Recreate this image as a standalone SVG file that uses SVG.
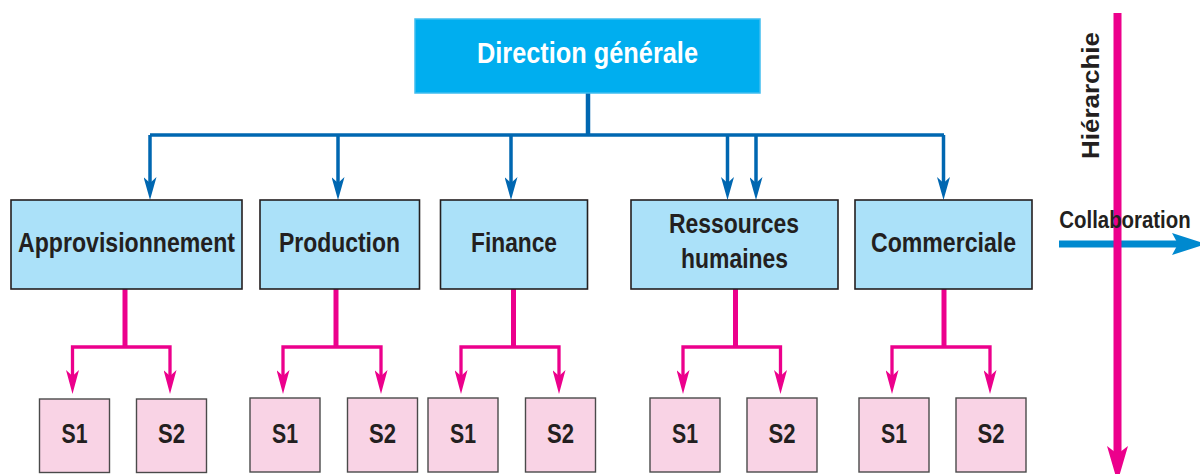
<svg xmlns="http://www.w3.org/2000/svg" width="1200" height="474" viewBox="0 0 1200 474">
<style>
.dg{fill:#00AEEF;stroke:#3FBDF0;stroke-width:1.5}
.l2{fill:#ABE1F9;stroke:#231F20;stroke-width:1.6}
.s{fill:#F9D3E5;stroke:#4A4A4A;stroke-width:1.4}
.t{font-family:"Liberation Sans Narrow","Liberation Sans",Arial,sans-serif;font-weight:bold;text-anchor:middle;fill:#231F20}
.bl{fill:none;stroke:#0067B1;stroke-width:3.5}
.pk{fill:none;stroke:#EC008C;stroke-width:3.3}
</style>
<defs>
<marker id="ab" viewBox="0 0 23 13" markerWidth="23" markerHeight="13" refX="13" refY="6.5" orient="auto" markerUnits="userSpaceOnUse">
<path d="M0,0 L23,6.5 L0,13 L6,6.5 Z" fill="#0067B1"/>
</marker>
<marker id="ap" viewBox="0 0 24 13" markerWidth="24" markerHeight="13" refX="14" refY="6.5" orient="auto" markerUnits="userSpaceOnUse">
<path d="M0,0 L24,6.5 L0,13 L6,6.5 Z" fill="#EC008C"/>
</marker>
</defs>

<g id="connectors">
<line x1="588" y1="93" x2="588" y2="135" stroke="#0067B1" stroke-width="4.5"/>
<polyline class="bl" points="150,135 944,135"/>
<line class="bl" x1="150" y1="135" x2="150" y2="190" marker-end="url(#ab)"/>
<line class="bl" x1="338" y1="135" x2="338" y2="190" marker-end="url(#ab)"/>
<line class="bl" x1="511" y1="135" x2="511" y2="190" marker-end="url(#ab)"/>
<line class="bl" x1="727.5" y1="135" x2="727.5" y2="190" marker-end="url(#ab)"/>
<line class="bl" x1="756" y1="135" x2="756" y2="190" marker-end="url(#ab)"/>
<line class="bl" x1="943.5" y1="135" x2="943.5" y2="190" marker-end="url(#ab)"/>

<g stroke="#EC008C" stroke-width="5">
<line x1="125" y1="289" x2="125" y2="348"/>
<line x1="336" y1="289" x2="336" y2="348"/>
<line x1="513.5" y1="289" x2="513.5" y2="348"/>
<line x1="735.5" y1="289" x2="735.5" y2="348"/>
<line x1="944" y1="289" x2="944" y2="348"/>
</g>
<polyline class="pk" points="72.5,384 72.5,347 170,347 170,384" />
<polyline class="pk" points="283,384 283,347 381,347 381,384" />
<polyline class="pk" points="461,384 461,347 559,347 559,384" />
<polyline class="pk" points="683,384 683,347 780.5,347 780.5,384" />
<polyline class="pk" points="892,384 892,347 990,347 990,384" />
<g class="pk">
<line x1="72.5" y1="378" x2="72.5" y2="384" marker-end="url(#ap)"/>
<line x1="170" y1="378" x2="170" y2="384" marker-end="url(#ap)"/>
<line x1="283" y1="378" x2="283" y2="384" marker-end="url(#ap)"/>
<line x1="381" y1="378" x2="381" y2="384" marker-end="url(#ap)"/>
<line x1="461" y1="378" x2="461" y2="384" marker-end="url(#ap)"/>
<line x1="559" y1="378" x2="559" y2="384" marker-end="url(#ap)"/>
<line x1="683" y1="378" x2="683" y2="384" marker-end="url(#ap)"/>
<line x1="780.5" y1="378" x2="780.5" y2="384" marker-end="url(#ap)"/>
<line x1="892" y1="378" x2="892" y2="384" marker-end="url(#ap)"/>
<line x1="990" y1="378" x2="990" y2="384" marker-end="url(#ap)"/>
</g>
</g>

<g id="direction">
<rect class="dg" x="415" y="19" width="345" height="74"/>
<text class="t" x="587.5" y="63" font-size="29" style="fill:#FFFFFF" textLength="221" lengthAdjust="spacingAndGlyphs">Direction générale</text>
</g>

<g id="approvisionnement">
<rect class="l2" x="11" y="200" width="231" height="89"/>
<text class="t" x="126.5" y="252" font-size="27" textLength="217" lengthAdjust="spacingAndGlyphs">Approvisionnement</text>
</g>
<g id="production">
<rect class="l2" x="260" y="200" width="159.5" height="89"/>
<text class="t" x="339.5" y="252" font-size="27" textLength="121" lengthAdjust="spacingAndGlyphs">Production</text>
</g>
<g id="finance">
<rect class="l2" x="440.5" y="200" width="147" height="89"/>
<text class="t" x="514" y="252" font-size="27" textLength="86" lengthAdjust="spacingAndGlyphs">Finance</text>
</g>
<g id="rh">
<rect class="l2" x="631" y="200" width="207" height="89"/>
<text class="t" x="734" y="233" font-size="27" textLength="130" lengthAdjust="spacingAndGlyphs">Ressources</text>
<text class="t" x="734.5" y="268" font-size="27" textLength="107" lengthAdjust="spacingAndGlyphs">humaines</text>
</g>
<g id="commerciale">
<rect class="l2" x="855" y="200" width="177" height="89"/>
<text class="t" x="943.5" y="252" font-size="27" textLength="145" lengthAdjust="spacingAndGlyphs">Commerciale</text>
</g>

<g id="approv-s1"><rect class="s" x="39.5" y="399" width="70" height="73.5"/><text class="t" x="74.5" y="443" font-size="27" textLength="26" lengthAdjust="spacingAndGlyphs">S1</text></g>
<g id="approv-s2"><rect class="s" x="136.5" y="399" width="70" height="73.5"/><text class="t" x="171.5" y="443" font-size="27" textLength="27" lengthAdjust="spacingAndGlyphs">S2</text></g>
<g id="prod-s1"><rect class="s" x="250" y="398" width="70" height="74"/><text class="t" x="285" y="443" font-size="27" textLength="26" lengthAdjust="spacingAndGlyphs">S1</text></g>
<g id="prod-s2"><rect class="s" x="347.5" y="398" width="70" height="74"/><text class="t" x="382.5" y="443" font-size="27" textLength="27" lengthAdjust="spacingAndGlyphs">S2</text></g>
<g id="fin-s1"><rect class="s" x="428" y="398" width="70" height="74"/><text class="t" x="463" y="443" font-size="27" textLength="26" lengthAdjust="spacingAndGlyphs">S1</text></g>
<g id="fin-s2"><rect class="s" x="525.5" y="398" width="70" height="74"/><text class="t" x="560.5" y="443" font-size="27" textLength="27" lengthAdjust="spacingAndGlyphs">S2</text></g>
<g id="rh-s1"><rect class="s" x="650" y="398" width="70" height="74"/><text class="t" x="685" y="443" font-size="27" textLength="26" lengthAdjust="spacingAndGlyphs">S1</text></g>
<g id="rh-s2"><rect class="s" x="747" y="398" width="70" height="74"/><text class="t" x="782" y="443" font-size="27" textLength="27" lengthAdjust="spacingAndGlyphs">S2</text></g>
<g id="com-s1"><rect class="s" x="859" y="398" width="70" height="74"/><text class="t" x="894" y="443" font-size="27" textLength="26" lengthAdjust="spacingAndGlyphs">S1</text></g>
<g id="com-s2"><rect class="s" x="956" y="398" width="70" height="74"/><text class="t" x="991" y="443" font-size="27" textLength="27" lengthAdjust="spacingAndGlyphs">S2</text></g>

<g id="collaboration">
<line x1="1059" y1="244" x2="1178" y2="244" stroke="#0089CF" stroke-width="7"/>
<path d="M1172,233 L1206,244 L1172,255 L1178,244 Z" fill="#0089CF"/>
</g>
<g id="hierarchie">
<line x1="1117.5" y1="13" x2="1117.5" y2="454" stroke="#EC008C" stroke-width="8"/>
<path d="M1107,446 L1117.5,482 L1128,446 L1117.5,454 Z" fill="#EC008C"/>
<text transform="translate(1099,159) rotate(-90)" x="0" y="0" font-family="'Liberation Sans',Arial,sans-serif" font-weight="bold" font-size="23" fill="#231F20" textLength="127" lengthAdjust="spacingAndGlyphs">Hiérarchie</text>
</g>
<text class="t" transform="translate(1125,228) scale(0.85,1)" x="0" y="0" font-family="'Liberation Sans',Arial,sans-serif" font-size="24" style="font-family:'Liberation Sans',Arial,sans-serif">Collaboration</text>
</svg>
